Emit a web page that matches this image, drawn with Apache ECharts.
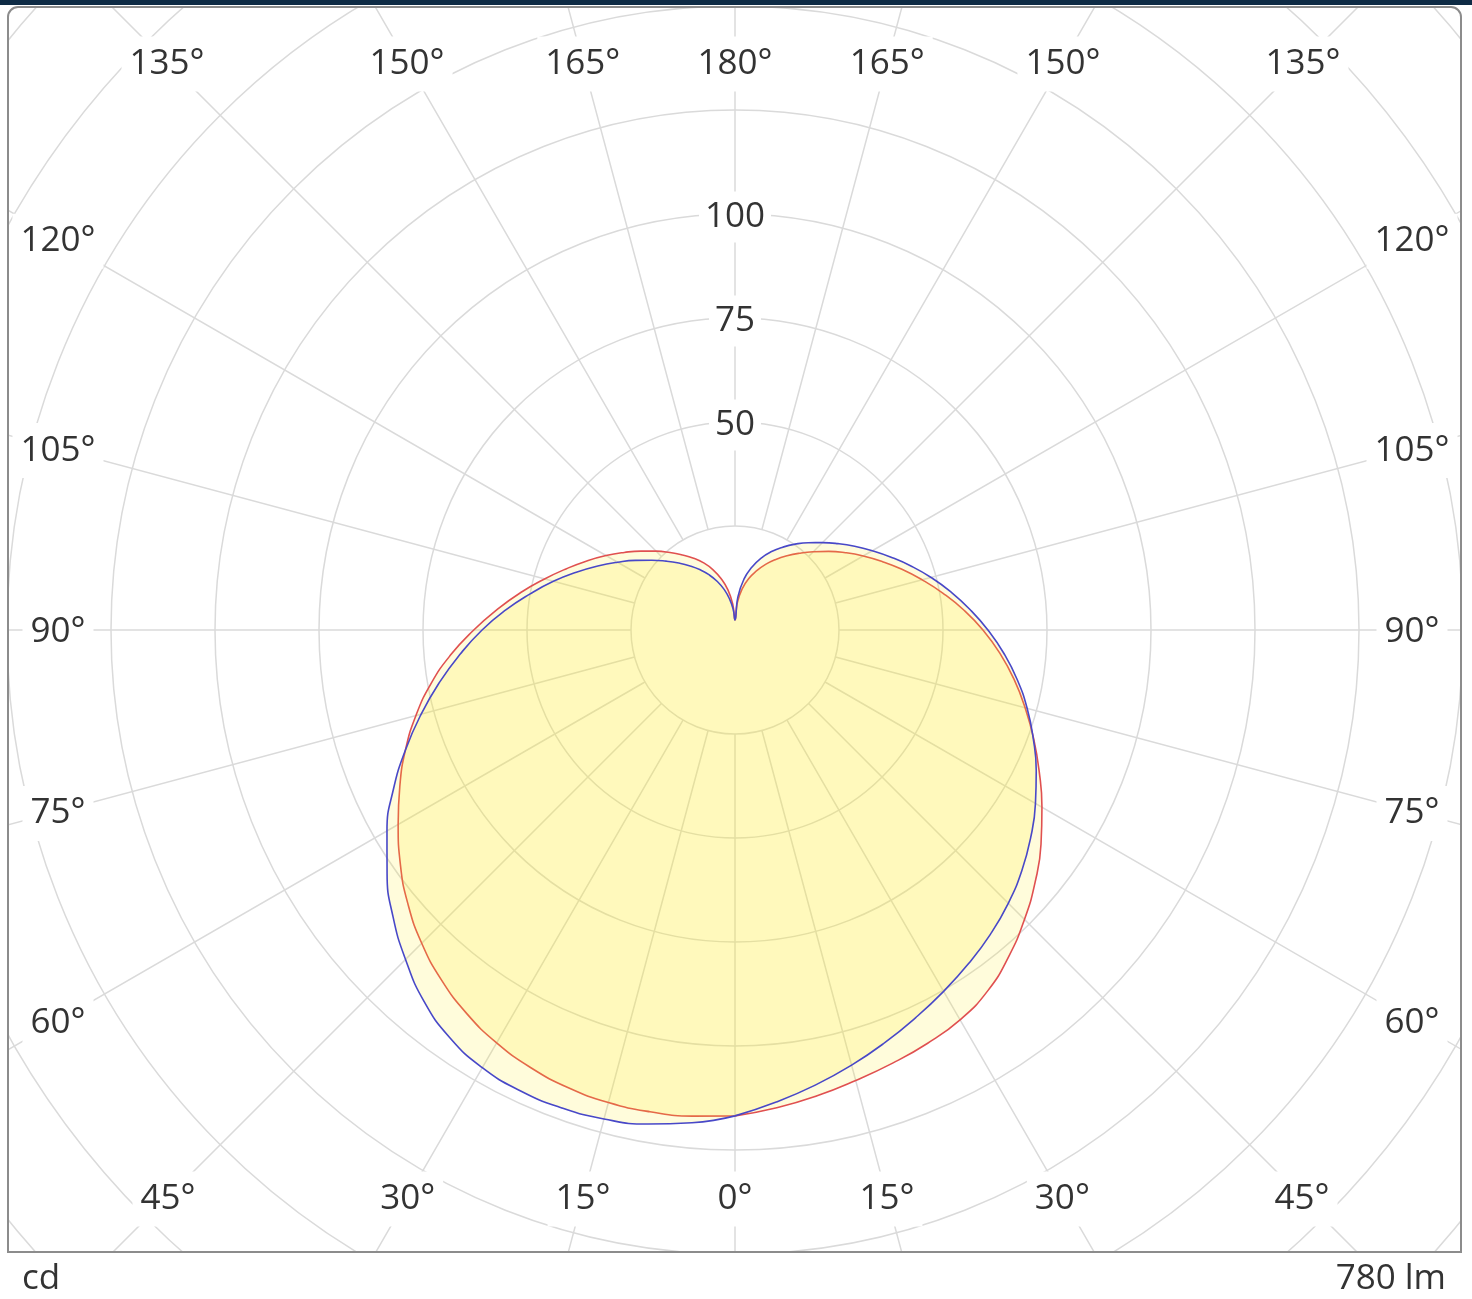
<!DOCTYPE html>
<html>
<head>
<meta charset="utf-8">
<script src="https://cdn.jsdelivr.net/npm/echarts@6/dist/echarts.min.js"></script>
<style>
html,body{margin:0;padding:0;background:#fff;}
#chart{width:1472px;height:1299px;}
</style>
</head>
<body>
<div id="chart"></div>
<script>
// ---- data (luminous intensity, cd) ----
const gammaDeg = [0,5,10,15,20,25,30,35,40,45,50,55,60,65,70,75,80,85,90,95,100,105,110,115,120,125,130,135,140,145,150,155,160,165,170,175,180];
// C0 plane (red, right half)
const c0   = [116.8,115.3,113.7,112.1,110.8,109.6,108.2,105.9,102.4,98.4,94.2,89.8,85.2,80.7,76.4,72.2,68.1,63.9,59.6,55.2,50.8,46.6,42.7,39.0,35.6,32.4,29.4,26.6,24.1,21.8,19.6,17.4,15.1,12.8,10.1,6.7,2.4];
// C180 plane (red, left half)
const c180 = [116.8,117.3,117.6,117.6,117.1,116.1,114.6,112.5,109.8,106.5,102.6,98.2,93.5,88.9,84.3,79.4,74.2,68.6,62.8,57.3,52.2,47.4,43.1,39.3,35.8,32.5,29.5,26.8,24.3,22.0,19.9,17.8,15.4,12.7,9.8,6.3,2.4];
// C90 plane (blue, right half)
const c90  = [116.8,113.9,111.1,108.3,105.5,102.8,100.3,97.9,95.5,92.9,90.0,86.8,83.4,79.9,76.3,72.7,68.9,64.9,60.8,56.7,52.7,48.8,45.0,41.4,38.1,35.1,32.3,29.7,27.4,25.2,23.0,20.8,18.4,15.6,12.4,8.0,2.4];
// C270 plane (blue, left half)
const c270 = [116.8,118.9,120.6,121.7,122.2,122.2,121.5,119.6,116.4,112.0,107.3,102.1,96.6,90.6,84.3,78.1,72.1,66.3,60.8,55.3,50.0,45.2,40.6,36.4,32.6,29.2,26.1,23.4,21.0,18.8,16.7,14.6,12.4,10.1,7.6,5.0,2.4];

const radialTickLabels = [50, 75, 100];
const angleTickLabels = [0,15,30,45,60,75,90,105,120,135,150,165,180];
const unitLabel = 'cd';
const fluxLabel = '780 lm';

// ---- layout ----
const CX = 735, CY = 630;
const RMAX = 250;          // cd at outer radius
const R_OUT = 1040;        // px (4.16 px per cd)
const R_IN = 104;          // radial grid lines start at 25 cd
const LBL = {l:58, r:1412, t:62, b:1197};
const GRID = '#dadada';
const FONT = '35px "Open Sans", "Noto Sans", sans-serif';
const TXT = '#333333';
const TY = 2;              // small vertical text nudge

function planeData(right, left) {
  const d = [];
  gammaDeg.forEach((g, i) => d.push([right[i], g]));
  for (let i = gammaDeg.length - 2; i >= 0; i--) d.push([left[i], 360 - gammaDeg[i]]);
  return d;
}

function labelPos(g, side) {
  const rad = g * Math.PI / 180;
  const dx = side * Math.sin(rad), dy = Math.cos(rad);
  let t = Infinity;
  if (Math.abs(dx) > 1e-6) t = Math.min(t, (dx > 0 ? LBL.r - CX : CX - LBL.l) / Math.abs(dx));
  if (dy > 1e-6) t = Math.min(t, (LBL.b - CY) / dy);
  if (dy < -1e-6) t = Math.min(t, (CY - LBL.t) / -dy);
  return [CX + t * dx, CY + t * dy];
}

const graphics = [];
angleTickLabels.forEach(g => {
  const sides = (g === 0 || g === 180) ? [1] : [-1, 1];
  sides.forEach(s => {
    const p = labelPos(g, s);
    graphics.push({
      type: 'text', z: 50,
      style: {text: g + '°', x: p[0], y: p[1] + TY, fill: TXT, font: FONT,
              align: 'center', verticalAlign: 'middle',
              backgroundColor: '#fff', padding: [10, 8]}
    });
  });
});
// clip outside frame
graphics.push({type:'rect', z:100, shape:{x:0,y:0,width:8,height:1299}, style:{fill:'#fff'}});
graphics.push({type:'rect', z:100, shape:{x:1461,y:0,width:11,height:1299}, style:{fill:'#fff'}});
graphics.push({type:'rect', z:100, shape:{x:0,y:0,width:1472,height:8}, style:{fill:'#fff'}});
graphics.push({type:'rect', z:100, shape:{x:0,y:1253,width:1472,height:46}, style:{fill:'#fff'}});
graphics.push({type:'rect', z:101, shape:{x:0,y:0,width:1472,height:5}, style:{fill:'#0e2b45'}});
graphics.push({type:'rect', z:101, shape:{x:8,y:7,width:1453,height:1245,r:[10,10,0,0]}, style:{fill:'none', stroke:'#8c8c8c', lineWidth:2}});
graphics.push({type:'text', z:102, style:{text: unitLabel, x:22, y:1279, fill:TXT, font:FONT, align:'left', verticalAlign:'middle'}});
graphics.push({type:'text', z:102, style:{text: fluxLabel, x:1446, y:1279, fill:TXT, font:FONT, align:'right', verticalAlign:'middle'}});

const hidden = {axisLine:{show:false}, axisTick:{show:false}, axisLabel:{show:false}};

const option = {
  animation: false,
  backgroundColor: '#fff',
  polar: [
    {center:[CX, CY], radius:[0, R_OUT]},
    {center:[CX, CY], radius:[R_IN, R_OUT]}
  ],
  angleAxis: [
    Object.assign({polarIndex:0, type:'value', min:0, max:360, startAngle:270, clockwise:false, splitLine:{show:false}}, hidden),
    Object.assign({polarIndex:1, type:'value', min:0, max:360, interval:15, startAngle:270, clockwise:false,
      splitLine:{show:true, lineStyle:{color:GRID, width:1.5}}}, hidden)
  ],
  radiusAxis: [
    Object.assign({polarIndex:0, type:'value', min:0, max:RMAX, interval:25,
      splitLine:{show:true, lineStyle:{color:GRID, width:1.5}}}, hidden),
    Object.assign({polarIndex:1, type:'value', min:25, max:RMAX, splitLine:{show:false}}, hidden)
  ],
  graphic: graphics,
  series: [
    {type:'line', coordinateSystem:'polar', polarIndex:0, name:'C0 - C180',
     data: planeData(c0, c180), symbol:'none', smooth:0.5, z:3,
     lineStyle:{color:'#e05050', width:1.6},
     areaStyle:{color:'rgba(255,236,30,0.16)', opacity:1}},
    {type:'line', coordinateSystem:'polar', polarIndex:0, name:'C90 - C270',
     data: planeData(c90, c270), symbol:'none', smooth:0.5, z:4,
     lineStyle:{color:'#4848c8', width:1.6},
     areaStyle:{color:'rgba(255,236,30,0.16)', opacity:1}},
    {type:'scatter', coordinateSystem:'polar', polarIndex:0, z:10,
     data: radialTickLabels.map(v => [v, 180]), symbolSize:0,
     itemStyle:{opacity:1},
     label:{show:true, position:'inside', offset:[0, TY + 1], formatter: p => String(p.value[0]),
            color:TXT, opacity:1, fontSize:35, fontFamily:'"Open Sans", "Noto Sans", sans-serif',
            backgroundColor:'#fff', padding:[8,6]}}
  ]
};

const chart = echarts.init(document.getElementById('chart'), null, {renderer:'canvas'});
chart.setOption(option);
</script>
</body>
</html>
